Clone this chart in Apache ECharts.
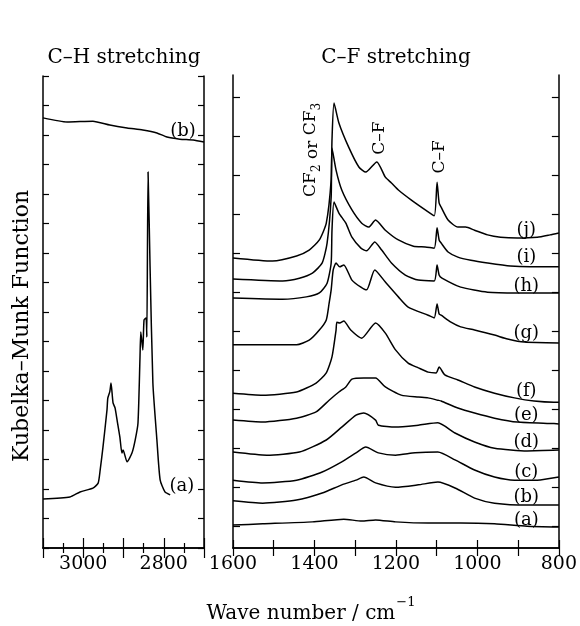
<!DOCTYPE html>
<html>
<head>
<meta charset="utf-8">
<script src="https://cdn.jsdelivr.net/npm/echarts@6/dist/echarts.min.js"></script>
<style>
html,body{margin:0;padding:0;background:#fff}
#chart{width:580px;height:626px}
</style>
</head>
<body>
<div id="chart"></div>
<script>
// C-H region (wavenumber, K-M units)
var chA = [[3100,1.66],[3033,1.73],[3008,1.90],[2976,2.03],[2963,2.20],[2958,2.64],[2951,3.42],[2941,4.68],[2939,5.08],[2934,5.30],[2931,5.59],[2926,4.92],[2921,4.75],[2916,4.34],[2909,3.76],[2904,3.22],[2901,3.32],[2891,2.92],[2879,3.22],[2871,3.66],[2864,4.24],[2859,6.47],[2857,7.32],[2852,6.71],[2849,7.73],[2844,7.80],[2842,7.15],[2839,12.75],[2834,9.53],[2827,5.59],[2817,3.66],[2809,2.31],[2797,1.90],[2784,1.80]];
var chB = [[3100,14.58],[3040,14.44],[2976,14.47],[2934,14.34],[2891,14.24],[2852,14.17],[2817,14.07],[2792,13.93],[2760,13.86],[2727,13.83],[2700,13.76]];

// C-F region, spectra (a) .. (j)
var cfA = [[1600,0.59],[1527,0.62],[1405,0.67],[1328,0.74],[1284,0.69],[1250,0.72],[1201,0.67],[1121,0.64],[1041,0.64],[958,0.62],[878,0.56],[800,0.54]];
var cfB = [[1600,1.21],[1527,1.15],[1444,1.23],[1381,1.41],[1333,1.62],[1298,1.74],[1279,1.82],[1250,1.67],[1201,1.56],[1145,1.62],[1097,1.69],[1055,1.54],[1007,1.28],[958,1.15],[878,1.10],[800,1.10]];
var cfC = [[1600,1.74],[1527,1.67],[1444,1.74],[1381,1.95],[1333,2.21],[1298,2.44],[1274,2.59],[1243,2.44],[1201,2.38],[1153,2.44],[1097,2.46],[1055,2.26],[1007,2.00],[958,1.82],[909,1.74],[853,1.74],[800,1.82]];
var cfD = [[1600,2.46],[1517,2.38],[1437,2.46],[1371,2.77],[1333,3.10],[1298,3.41],[1279,3.46],[1250,3.28],[1243,3.15],[1201,3.10],[1145,3.15],[1097,3.21],[1055,2.95],[1007,2.72],[958,2.56],[878,2.49],[800,2.51]];
var cfE = [[1600,3.28],[1527,3.23],[1444,3.33],[1396,3.49],[1364,3.79],[1340,4.00],[1323,4.13],[1308,4.33],[1279,4.36],[1250,4.36],[1226,4.13],[1187,3.92],[1145,3.87],[1121,3.85],[1097,3.79],[1089,3.77],[1048,3.59],[1007,3.46],[958,3.33],[902,3.23],[812,3.19],[800,3.18]];
var cfF = [[1600,3.97],[1527,3.92],[1444,4.00],[1396,4.23],[1371,4.49],[1357,4.90],[1347,5.59],[1345,5.79],[1338,5.77],[1328,5.82],[1311,5.59],[1284,5.38],[1250,5.77],[1226,5.51],[1201,5.08],[1170,4.74],[1145,4.62],[1121,4.51],[1101,4.49],[1094,4.64],[1080,4.44],[1048,4.31],[1007,4.13],[958,3.97],[909,3.85],[861,3.77],[812,3.74],[800,3.74]];
var cfG = [[1600,5.21],[1444,5.21],[1413,5.33],[1388,5.59],[1371,5.85],[1364,6.28],[1359,6.62],[1354,7.13],[1347,7.31],[1338,7.21],[1328,7.26],[1308,6.87],[1286,6.69],[1272,6.62],[1252,7.13],[1226,6.82],[1194,6.44],[1170,6.18],[1121,5.97],[1106,5.90],[1099,6.26],[1094,6.00],[1089,5.97],[1065,5.79],[1041,5.67],[1007,5.59],[958,5.46],[926,5.36],[885,5.28],[800,5.26]];
var cfH = [[1600,6.41],[1478,6.38],[1420,6.44],[1388,6.54],[1369,6.79],[1359,7.31],[1357,8.15],[1352,8.87],[1340,8.59],[1323,8.33],[1308,7.97],[1286,7.69],[1272,7.62],[1252,7.85],[1235,7.64],[1211,7.31],[1177,7.00],[1145,6.87],[1106,6.85],[1099,7.26],[1094,7.00],[1087,6.92],[1041,6.69],[975,6.56],[902,6.54],[800,6.54]];
var cfI = [[1600,6.90],[1478,6.85],[1437,6.92],[1405,7.05],[1381,7.31],[1369,7.82],[1359,9.00],[1357,10.26],[1347,9.69],[1333,9.18],[1308,8.67],[1284,8.33],[1267,8.23],[1250,8.41],[1226,8.15],[1194,7.90],[1157,7.74],[1128,7.72],[1106,7.69],[1099,8.21],[1094,7.90],[1089,7.82],[1072,7.59],[1048,7.46],[1016,7.38],[975,7.31],[919,7.23],[870,7.21],[800,7.21]];
var cfJ = [[1600,7.44],[1503,7.36],[1444,7.49],[1413,7.64],[1388,7.90],[1371,8.33],[1359,9.44],[1357,10.46],[1352,11.41],[1340,10.90],[1316,10.28],[1291,9.77],[1274,9.64],[1247,9.90],[1226,9.51],[1211,9.36],[1194,9.18],[1162,8.92],[1128,8.67],[1106,8.52],[1099,9.38],[1094,8.85],[1089,8.74],[1072,8.41],[1048,8.23],[1029,8.23],[1007,8.15],[975,8.03],[943,7.97],[902,7.95],[853,7.97],[822,8.03],[800,8.08]];

// curve labels
var chLabelText = ['(a)', '(b)'];
var chLabelWave = [2755, 2752];
var chLabelLevel = [2.10, 14.14];
var cfLabelText = ['(a)','(b)','(c)','(d)','(e)','(f)','(g)','(h)','(i)','(j)'];
var cfLabelWave = 880;
var cfLabelLevel = [0.72, 1.31, 1.95, 2.72, 3.41, 4.03, 5.51, 6.72, 7.46, 8.15];

// band assignments
var noteText = ['CF2 or CF3', 'C–F', 'C–F'];
var noteWave = [1405, 1240, 1092];
var noteLevel = [10.21, 10.51, 10.03];

// tick positions of the right panel y axis
var cfTicks = [0.56,1.56,2.56,3.56,4.56,5.56,6.56,7.56,8.56,9.56,10.56,11.56];

var FONT = 'DejaVu Serif';
var INK = '#000';

var chart = echarts.init(document.getElementById('chart'));

function spectrum(data, xi, yi){
	return {
		type: 'line', xAxisIndex: xi, yAxisIndex: yi, data: data,
		symbol: 'none', smooth: 0.2, silent: true,
		lineStyle: {color: INK, width: 1.5}
	};
}

function labels(texts, waves, levels, xi, yi, rotate){
	var items = texts.map(function(t, i){
		var w = Array.isArray(waves) ? waves[i] : waves;
		return {name: t, value: [w, levels[i]]};
	});
	return {
		type: 'scatter', xAxisIndex: xi, yAxisIndex: yi, data: items,
		symbolSize: 1, silent: true, z: 5,
		itemStyle: {color: 'rgba(0,0,0,0)'},
		label: {
			show: true, position: 'inside', rotate: rotate || 0,
			color: INK, opacity: 1, textBorderWidth: 0,
			fontFamily: FONT, fontSize: rotate ? 17 : 18,
			formatter: function(p){
				return p.name.replace(/CF(\d)/g, '{n|CF}{s|$1}');
			},
			rich: {
				n: {fontFamily: FONT, fontSize: 17, color: INK, lineHeight: 18, verticalAlign: 'top'},
				s: {fontFamily: FONT, fontSize: 12, color: INK, padding: [9, 0, 0, 0], verticalAlign: 'bottom'}
			}
		}
	};
}

function xAxis(gi, min, max, pos, withLabels, minor){
	return {
		type: 'value', gridIndex: gi, min: min, max: max, interval: 100, inverse: true, position: pos,
		axisLine: {show: true, lineStyle: {color: INK, width: 1.5}},
		axisTick: {show: true, inside: true, length: minor ? 10 : 8, lineStyle: {color: INK, width: 1.2}},
		minorTick: {show: !!minor, splitNumber: 2, length: 5, lineStyle: {color: INK, width: 1.2}},
		splitLine: {show: false},
		axisLabel: {
			show: withLabels, margin: 7, color: INK, fontFamily: FONT, fontSize: 19,
			showMinLabel: true, showMaxLabel: true,
			formatter: function(v){ return (v % 200 === 0 && !(minor && (v === min || v === max))) ? String(v) : ''; }
		}
	};
}

function yAxis(gi, max, pos, ticks){
	var tick = {show: true, inside: true, length: 6, lineStyle: {color: INK, width: 1.2}};
	var ax = {
		type: 'value', gridIndex: gi, min: 0, max: max, position: pos,
		axisLine: {show: true, lineStyle: {color: INK, width: 1.5}},
		axisTick: tick, splitLine: {show: false}, axisLabel: {show: false}
	};
	if (ticks) { tick.customValues = ticks; tick.length = 7; }
	else ax.interval = 1;
	return ax;
}

var series = [
	spectrum(chA, 0, 0), spectrum(chB, 0, 0),
	labels(chLabelText, chLabelWave, chLabelLevel, 0, 0)
];
[cfA, cfB, cfC, cfD, cfE, cfF, cfG, cfH, cfI, cfJ].forEach(function(d){
	series.push(spectrum(d, 2, 2));
});
series.push(labels(cfLabelText, cfLabelWave, cfLabelLevel, 2, 2));
series.push(labels(noteText, noteWave, noteLevel, 2, 2, 90));

chart.setOption({
	animation: false,
	backgroundColor: '#fff',
	grid: [
		{left: 43, top: 76, width: 161, height: 472},
		{left: 233, top: 75, width: 329, height: 473}
	],
	xAxis: [
		xAxis(0, 2700, 3100, 'bottom', true, true),
		xAxis(0, 2700, 3100, 'top', false, true),
		xAxis(1, 800, 1600, 'bottom', true, false),
		xAxis(1, 800, 1600, 'top', false, false)
	],
	yAxis: [
		yAxis(0, 16, 'left'),
		yAxis(0, 16, 'right'),
		yAxis(1, 12.13, 'left', cfTicks),
		yAxis(1, 12.13, 'right', cfTicks)
	],
	graphic: [
		{type: 'text', x: 124, y: 58, style: {text: 'C–H stretching', fill: INK, font: '20px "DejaVu Serif"', align: 'center', verticalAlign: 'middle'}},
		{type: 'text', x: 396, y: 58, style: {text: 'C–F stretching', fill: INK, font: '20px "DejaVu Serif"', align: 'center', verticalAlign: 'middle'}},
		{type: 'text', x: 22, y: 326, rotation: Math.PI / 2, style: {text: 'Kubelka–Munk Function', fill: INK, font: '22px "DejaVu Serif"', align: 'center', verticalAlign: 'middle'}},
		{type: 'text', x: 311, y: 610, style: {
			text: '{b|Wave number / cm}{s|−1}', align: 'center', verticalAlign: 'middle',
			rich: {
				b: {fontFamily: FONT, fontSize: 20, fill: INK, lineHeight: 22, verticalAlign: 'bottom'},
				s: {fontFamily: FONT, fontSize: 13, fill: INK, padding: [0, 0, 14, 1], verticalAlign: 'top'}
			}
		}}
	],
	series: series
});
</script>
</body>
</html>
